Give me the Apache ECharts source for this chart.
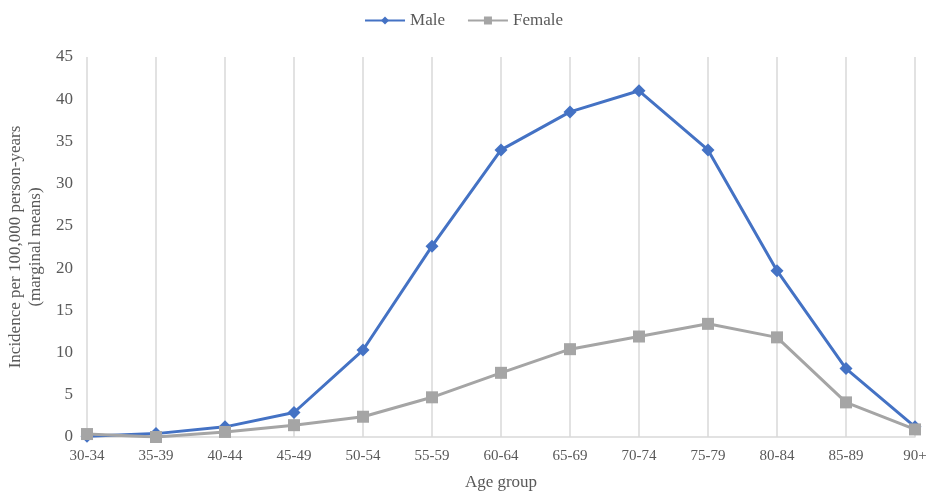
<!DOCTYPE html>
<html><head><meta charset="utf-8">
<script src="https://cdn.jsdelivr.net/npm/echarts@6/dist/echarts.min.js"></script>
<style>html,body{margin:0;padding:0;background:#fff}#c{width:927px;height:492px}</style>
</head><body><div id="c"></div>
<script>
const categories = ["30-34","35-39","40-44","45-49","50-54","55-59","60-64","65-69","70-74","75-79","80-84","85-89","90+"];
const maleValues = [0.1, 0.4, 1.2, 2.9, 10.3, 22.6, 34.0, 38.5, 41.0, 34.0, 19.7, 8.1, 1.2];
const femaleValues = [0.35, 0.0, 0.6, 1.4, 2.4, 4.7, 7.6, 10.4, 11.9, 13.4, 11.8, 4.1, 0.9];
const yTicks = {min: 0, max: 45, interval: 5};
const font = "Liberation Serif";
const chart = echarts.init(document.getElementById('c'));
chart.setOption({
  animation: false,
  textStyle: {fontFamily: font},
  legend: {
    top: 7, left: 'center', itemWidth: 40, itemHeight: 10, itemGap: 22,
    textStyle: {fontFamily: font, fontSize: 17, color: '#595959'},
    data: ['Male', 'Female']
  },
  grid: {left: 87, right: 12, top: 57, bottom: 55, containLabel: false, outerBoundsMode: 'none'},
  xAxis: {
    type: 'category', data: categories, boundaryGap: false,
    name: 'Age group', nameLocation: 'middle', nameGap: 37,
    nameTextStyle: {fontFamily: font, fontSize: 17, color: '#595959'},
    axisLine: {lineStyle: {color: '#d9d9d9', width: 1.5}},
    axisTick: {show: false},
    axisLabel: {fontFamily: font, fontSize: 15, color: '#595959', margin: 12, interval: 0},
    splitLine: {show: true, lineStyle: {color: '#d9d9d9', width: 1.5}}
  },
  yAxis: {
    type: 'value', min: yTicks.min, max: yTicks.max, interval: yTicks.interval,
    name: 'Incidence per 100,000 person-years\n(marginal means)', nameLocation: 'middle', nameGap: 40,
    nameTextStyle: {fontFamily: font, fontSize: 17, color: '#595959', lineHeight: 20},
    axisLine: {show: false}, axisTick: {show: false},
    axisLabel: {fontFamily: font, fontSize: 17, color: '#595959', margin: 14},
    splitLine: {show: false}
  },
  series: [
    {name: 'Male', type: 'line', data: maleValues, symbol: 'diamond', symbolSize: 13,
     itemStyle: {color: '#4472C4'}, lineStyle: {color: '#4472C4', width: 3}},
    {name: 'Female', type: 'line', data: femaleValues, symbol: 'rect', symbolSize: 12,
     itemStyle: {color: '#A5A5A5'}, lineStyle: {color: '#A5A5A5', width: 3}}
  ]
});
</script></body></html>
